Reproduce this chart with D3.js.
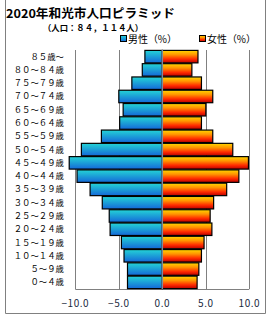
<!DOCTYPE html>
<html>
<head>
<meta charset="utf-8">
<script src="https://cdn.jsdelivr.net/npm/d3@7"></script>
<style>
  body { margin: 0; background: #fff; }
  text { font-family: "Noto Sans CJK JP", "Noto Sans", sans-serif; }
</style>
</head>
<body>
<div id="chart"></div>
<script>
// 年齢階級（上から）
var ages = ["８５歳～", "８０～８４歳", "７５～７９歳", "７０～７４歳", "６５～６９歳", "６０～６４歳",
  "５５～５９歳", "５０～５４歳", "４５～４９歳", "４０～４４歳", "３５～３９歳", "３０～３４歳",
  "２５～２９歳", "２０～２４歳", "１５～１９歳", "１０～１４歳", "５～９歳", "０～４歳"];
var male = [2.0, 2.3, 3.5, 5.0, 4.5, 4.9, 7.0, 9.3, 10.7, 9.8, 8.3, 6.9, 6.1, 6.0, 4.7, 4.4, 4.0, 4.0];
var female = [4.1, 3.4, 4.5, 5.8, 5.0, 4.5, 5.8, 8.1, 9.9, 8.8, 7.4, 5.9, 5.5, 5.7, 4.8, 4.5, 4.2, 4.0];
var ticks = [-10, -5, 0, 5, 10];
var tickLabels = ["−10.0", "−5.0", "0.0", "5.0", "10.0"];

var width = 270, height = 320;
var svg = d3.select("#chart").append("svg")
  .attr("width", width)
  .attr("height", height);

var defs = svg.append("defs");
var gm = defs.append("linearGradient").attr("id", "gMale")
  .attr("x1", 0).attr("y1", 0).attr("x2", 0).attr("y2", 1);
gm.append("stop").attr("offset", "0%").attr("stop-color", "#24d4d6");
gm.append("stop").attr("offset", "100%").attr("stop-color", "#1468d8");
var gf = defs.append("linearGradient").attr("id", "gFemale")
  .attr("x1", 0).attr("y1", 0).attr("x2", 0).attr("y2", 1);
gf.append("stop").attr("offset", "0%").attr("stop-color", "#ffd800");
gf.append("stop").attr("offset", "35%").attr("stop-color", "#ff9400");
gf.append("stop").attr("offset", "70%").attr("stop-color", "#ff2a00");
gf.append("stop").attr("offset", "100%").attr("stop-color", "#b80000");

// 外枠
svg.append("path")
  .attr("d", "M5.5,0 V313.5 H265.5 V0")
  .attr("fill", "none")
  .attr("stroke", "#808080")
  .attr("stroke-width", 1);

// タイトル
svg.append("text")
  .attr("x", 6).attr("y", 18)
  .attr("font-size", 12).attr("font-weight", "bold")
  .attr("textLength", 169).attr("lengthAdjust", "spacingAndGlyphs")
  .text("2020年和光市人口ピラミッド");
svg.append("text")
  .attr("x", 43).attr("y", 31)
  .attr("font-size", 8.5).attr("font-weight", "bold")
  .attr("textLength", 100).attr("lengthAdjust", "spacingAndGlyphs")
  .text("（人口：８４，１１４人）");

var x = d3.scaleLinear().domain([-10, 10]).range([75.3, 249.3]);
var y = d3.scaleBand().domain(ages).range([50, 289]).paddingInner(0.06).paddingOuter(0.03);

// グリッド
svg.append("g").selectAll("line")
  .data(ticks.filter(function(d) { return d != 0; }))
  .enter().append("line")
  .attr("x1", function(d) { return Math.round(x(d)) + 0.5; })
  .attr("x2", function(d) { return Math.round(x(d)) + 0.5; })
  .attr("y1", 50).attr("y2", 289)
  .attr("stroke", "#808080").attr("stroke-width", 1);
svg.append("line")
  .attr("x1", x(-10)).attr("x2", x(10))
  .attr("y1", 289.5).attr("y2", 289.5)
  .attr("stroke", "#808080").attr("stroke-width", 1);

// 男性
svg.append("g").selectAll("rect")
  .data(male)
  .enter().append("rect")
  .attr("x", function(d) { return x(-d); })
  .attr("y", function(d, i) { return y(ages[i]); })
  .attr("width", function(d) { return x(0) - x(-d); })
  .attr("height", y.bandwidth())
  .attr("fill", "url(#gMale)")
  .attr("stroke", "#000").attr("stroke-width", 1.2);

// 女性
svg.append("g").selectAll("rect")
  .data(female)
  .enter().append("rect")
  .attr("x", x(0))
  .attr("y", function(d, i) { return y(ages[i]); })
  .attr("width", function(d) { return x(d) - x(0); })
  .attr("height", y.bandwidth())
  .attr("fill", "url(#gFemale)")
  .attr("stroke", "#000").attr("stroke-width", 1.2);

// 0 の線
svg.append("line")
  .attr("x1", x(0)).attr("x2", x(0))
  .attr("y1", 50).attr("y2", 289)
  .attr("stroke", "#7a8a9a").attr("stroke-width", 1.5);

// 年齢ラベル
svg.append("g").selectAll("text")
  .data(ages)
  .enter().append("text")
  .attr("x", 64)
  .attr("y", function(d) { return y(d) + y.bandwidth() / 2 + 3; })
  .attr("text-anchor", "end")
  .attr("font-size", 8.4)
  .text(function(d) { return d; });

// 目盛りラベル
svg.append("g").selectAll("text")
  .data(ticks)
  .enter().append("text")
  .attr("x", function(d) { return x(d); })
  .attr("y", 307)
  .attr("text-anchor", "middle")
  .attr("font-size", 10)
  .attr("fill", "#1a2a40")
  .attr("letter-spacing", 0.5)
  .text(function(d, i) { return tickLabels[i]; });

// 凡例
var legend = [{label: "男性（%）", fill: "url(#gMale)", x: 120}, {label: "女性（%）", fill: "url(#gFemale)", x: 199}];
legend.forEach(function(l) {
  svg.append("rect")
    .attr("x", l.x + 0.5).attr("y", 35.5)
    .attr("width", 6).attr("height", 6)
    .attr("fill", l.fill)
    .attr("stroke", "#000").attr("stroke-width", 1);
  svg.append("text")
    .attr("x", l.x + 8).attr("y", 42.5)
    .attr("font-size", 10)
    .attr("textLength", 49).attr("lengthAdjust", "spacingAndGlyphs")
    .text(l.label);
});
</script>
</body>
</html>
